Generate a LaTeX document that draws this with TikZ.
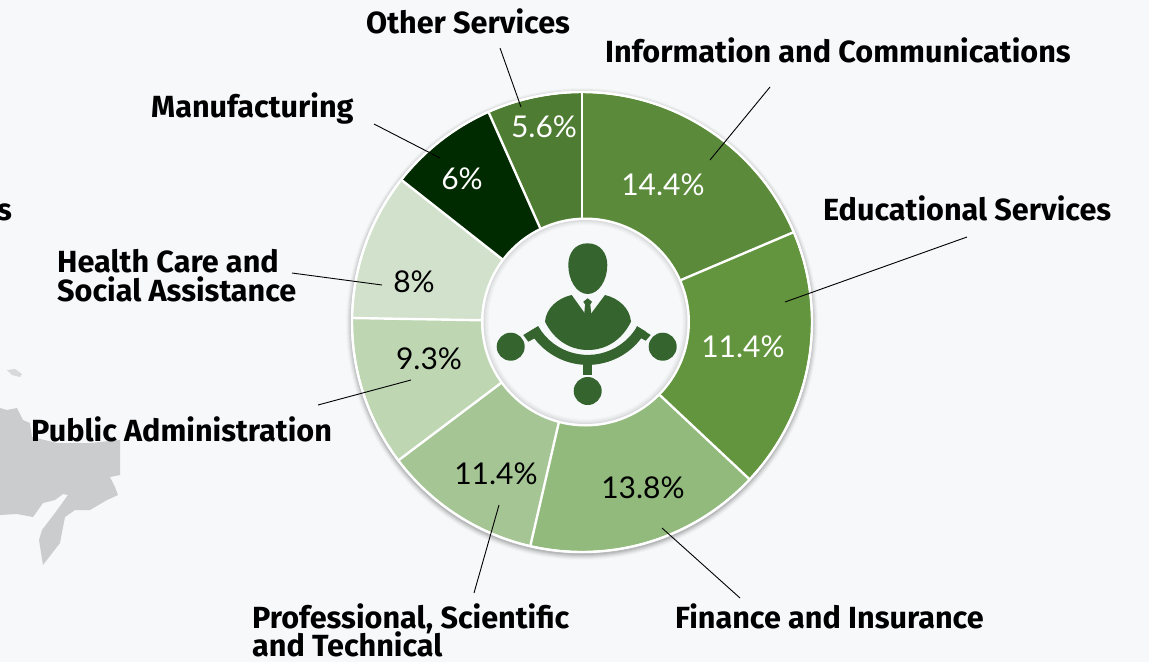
\documentclass[tikz,border=0pt]{standalone}
\usepackage{fontspec}
\setmainfont{Lato}
\newfontfamily\labfont{Fira Sans}
\usetikzlibrary{calc}
\definecolor{bgc}{HTML}{F6F8FA}
\definecolor{iconc}{HTML}{35642E}
\definecolor{mapc}{HTML}{CBCCCE}
\definecolor{sa}{HTML}{5A8A3A}
\definecolor{sb}{HTML}{63953E}
\definecolor{sc}{HTML}{92BA7C}
\definecolor{sd}{HTML}{A5C595}
\definecolor{se}{HTML}{BED6B2}
\definecolor{sf}{HTML}{D2E1CB}
\definecolor{sg}{HTML}{002A00}
\definecolor{sh}{HTML}{4E7C32}
\tikzset{
  x=1pt,y=-1pt,
  lab/.style={anchor=base west,inner sep=0pt,align=left,font=\labfont\fontsize{30.6}{29}\selectfont\bfseries,text=black},
  pct/.style={inner sep=0pt,font=\fontsize{30}{30}\selectfont,text=black},
  wpct/.style={pct,text=white},
  lead/.style={draw=black,line width=0.9pt},
  icon/.style={fill=iconc,draw=none},
  wedgeb/.style={draw=white,line width=2.4pt,line join=round}
}
\newcommand{\wedgeat}[3]{\fill[#3] (582,322) -- ++(#1:229 and -229) arc[start angle=#1,end angle=#2,x radius=229,y radius=-229] -- cycle;}
\begin{document}
\begin{tikzpicture}
\useasboundingbox (0,0) rectangle (1149,662);
\clip (0,0) rectangle (1149,662);
\fill[bgc] (0,0) rectangle (1149,662);
% map
\fill[mapc] (0,408) -- (7,410) -- (17,408) -- (23,420) -- (30,423) -- (32,437) -- (57,443) -- (90,443) -- (120,440) -- (120,475) -- (110,477) -- (115,487) -- (118,495) -- (107,500) -- (90,510) -- (75,510) -- (65,517) -- (63,527) -- (60,543) -- (43,565) -- (39,540) -- (42,530) -- (55,513) -- (68,495) -- (63,494) -- (55,500) -- (43,503) -- (33,517) -- (17,514) -- (0,515) -- cycle;
\fill[mapc!70!bgc] (7,370) -- (15,369) -- (22,374) -- (20,377) -- (12,375) -- cycle;
% ring
\foreach \r/\o in {236/0.02,235/0.03,234/0.04,233/0.05,232/0.06,231/0.08}{\fill[black,opacity=\o] (582,324) circle[radius=\r];}
\fill[white] (582,322) circle[radius=231];
\wedgeat{90}{23}{sa}
\wedgeat{23}{-43.2}{sb}
\wedgeat{-43.2}{-103}{sc}
\wedgeat{-103}{-143}{sd}
\wedgeat{-143}{-181}{se}
\wedgeat{-181}{-218.2}{sf}
\wedgeat{-218.2}{-246}{sg}
\wedgeat{-246}{-270}{sh}
\foreach \a in {90,23,-43.2,-103,-143,-181,-218.2,-246}{\draw[wedgeb] (582,322) -- ++(\a:229 and -229);}
\draw[white,line width=2.4pt] (582,322) circle[radius=230];
% hole
\fill[white] (585.5,322) circle[radius=104.5];
\fill[bgc!88!black] (585.5,322) circle[radius=102];
\foreach \r/\c in {101/91,100/94,99/96,98/98}{\fill[bgc!\c!black] (585.5,322) circle[radius=\r];}
\fill[bgc] (585.5,322) circle[radius=97];
% icon
\fill[icon] (587.7,243.3) .. controls (600,243.3) and (607.3,253) .. (607.3,265) .. controls (607.3,280) and (599,294) .. (587.7,294) .. controls (576.5,294) and (568.3,280) .. (568.3,265) .. controls (568.3,253) and (575,243.3) .. (587.7,243.3) -- cycle;
\fill[icon] (545,321.7) .. controls (546,308) and (558,298) .. (571.7,295) -- (586,315) -- (590,315) -- (605,295) .. controls (618,298) and (630,308) .. (631,321.7) .. controls (622,340) and (606,350) .. (588,350) .. controls (570,350) and (554,340) .. (545,321.7) -- cycle;
\fill[icon] (587.7,298.3) -- (592,301.7) -- (590.3,304.5) -- (591.5,316) -- (584,316) -- (585.1,304.5) -- (583.3,301.7) -- cycle;
\coordinate (bc) at (587.7,297.9);
\fill[icon] ($(bc)+(150:57)$) arc[start angle=150,end angle=30,radius=57] -- ($(bc)+(30:67)$) arc[start angle=30,end angle=150,radius=67] -- cycle;
\fill[icon] (538.3,326) -- (523.3,335) -- (528.3,341.7) -- (537,337) -- cycle;
\fill[icon] (636.7,326) -- (650.7,335) -- (645.7,340.7) -- (638.3,336.7) -- cycle;
\fill[icon] (583.3,362) rectangle (592.3,375);
\node[icon,circle,inner sep=0pt,minimum size=28pt] (c1) at (510.7,346.7) {};
\node[icon,circle,inner sep=0pt,minimum size=28pt] (c2) at (662.7,346.7) {};
\node[icon,circle,inner sep=0pt,minimum size=28pt] (c3) at (587.7,391) {};
% values
\node[wpct] (p1) at (663,185) {14.4\%};
\node[wpct] (p2) at (743,347) {11.4\%};
\node[pct] (p3) at (643,488) {13.8\%};
\node[pct] (p4) at (496,474) {11.4\%};
\node[pct] (p5) at (429,359) {9.3\%};
\node[pct] (p6) at (414,282) {8\%};
\node[wpct] (p7) at (462,179) {6\%};
\node[wpct] (p8) at (544,127) {5.6\%};
% labels
\node[lab] (l1) at (366,33) {Other Services};
\node[lab] (l2) at (605,62) {Information and Communications};
\node[lab] (l3) at (823,220) {Educational Services};
\node[lab] (l4) at (151,117) {Manufacturing};
\node[lab] (l5) at (57,301) {Health Care and\\Social Assistance};
\node[lab] (l6) at (31,441) {Public Administration};
\node[lab] (l7) at (675,628) {Finance and Insurance};
\node[lab] (l8) at (252,656) {Professional, Scientific\\[-4pt]and Technical};
\node[lab] (l9) at (-3,220) {s};
% leaders
\coordinate (a1) at (500,48); \coordinate (b1) at (521,107);
\coordinate (a2) at (770,87); \coordinate (b2) at (710,160);
\coordinate (a3) at (967,237); \coordinate (b3) at (785,302);
\coordinate (a4) at (374,124); \coordinate (b4) at (440,158);
\coordinate (a5) at (292,273); \coordinate (b5) at (382,285);
\coordinate (a6) at (318,405); \coordinate (b6) at (411,380);
\coordinate (a7) at (740,598); \coordinate (b7) at (662,528);
\coordinate (a8) at (474,593); \coordinate (b8) at (499,505);
\foreach \i in {1,...,8}{\draw[lead] (a\i) -- (b\i);}
\end{tikzpicture}
\end{document}
